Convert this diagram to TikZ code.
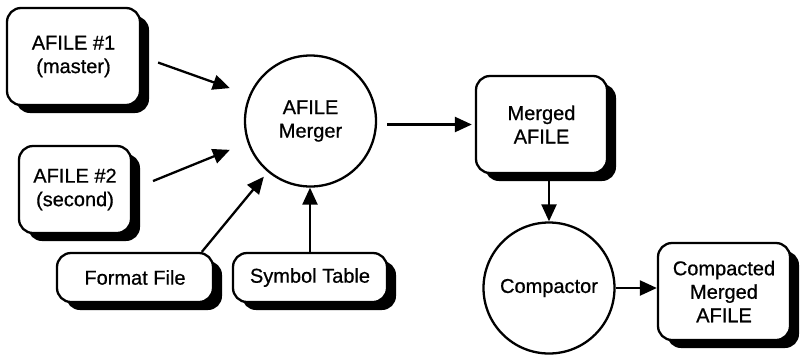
\documentclass[tikz,border=0pt]{standalone}
\usepackage{fontspec}
\setmainfont{Liberation Sans}[FakeBold=0.7]
\usetikzlibrary{arrows.meta,shadows}

\tikzset{
  filebox/.style={draw, line width=2.3pt, rounded corners=14pt, fill=white,
    inner sep=0pt, align=center,
    drop shadow={shadow xshift=9pt, shadow yshift=-8pt, fill=black, opacity=1}},
  process/.style={draw, circle, line width=2.3pt, fill=white, inner sep=0pt,
    minimum size=131pt, align=center},
  arr/.style={line width=2.3pt, -{Triangle[length=17pt,width=15pt]}},
  every node/.style={font=\fontsize{20}{23.5}\selectfont}
}

\begin{document}
\begin{tikzpicture}[x=1pt, y=-1pt]
  \useasboundingbox (0,0) rectangle (802,357);

  % input files
  \node[filebox, minimum width=133pt, minimum height=97pt] (a1) at (73.5,56.5) {AFILE \#1\\(master)};
  \node[filebox, minimum width=112pt, minimum height=87pt] (a2) at (75,189.5) {AFILE \#2\\(second)};
  \node[filebox, minimum width=156pt, minimum height=49pt] (fmt) at (135,277.5) {Format File};
  \node[filebox, minimum width=154pt, minimum height=49pt] (sym) at (310,277.5) {Symbol Table};

  % merge step
  \node[process] (m) at (310.5,121) {AFILE\\Merger};
  \node[filebox, minimum width=131pt, minimum height=97pt] (mg) at (541.5,124.5) {Merged\\AFILE};

  % compaction step
  \node[process] (cp) at (549,288) {Compactor};
  \node[filebox, minimum width=132pt, minimum height=97pt] (cc) at (724,291.5) {Compacted\\Merged\\AFILE};

  % data flow
  \draw[arr, shorten <=18pt, shorten >=20.5pt] (a1.east) -- (m.157.6);
  \draw[arr, shorten <=22.5pt, shorten >=19pt] (a2.east) -- (m.199.6);
  \draw[arr, shorten >=6pt] (fmt.21) -- (m.230.9);
  \draw[arr] (sym.north) -- (sym.north |- m.south);
  \draw[arr, shorten <=10pt, shorten >=3pt] (mg.west -| m.east) -- (mg.west);
  \draw[arr, shorten <=2pt] (mg.south -| cp.north) -- (cp.north);
  \draw[arr] (cp.east) -- (cp.east -| cc.west);
\end{tikzpicture}
\end{document}
